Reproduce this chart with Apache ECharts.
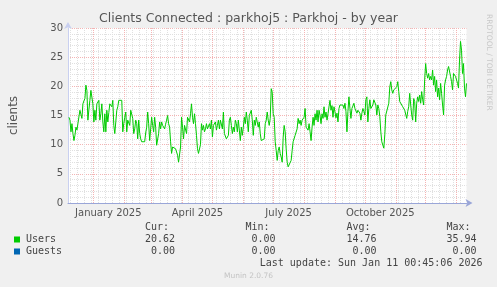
<!DOCTYPE html>
<html><head><meta charset="utf-8">
<script src="https://cdn.jsdelivr.net/npm/echarts@6/dist/echarts.min.js"></script>
<style>html,body{margin:0;padding:0;background:#f0f0f0}#c{width:497px;height:287px}</style>
</head><body><div id="c"></div>
<script>
// ---- data ----
const chartTitle = 'Clients Connected : parkhoj5 : Parkhoj - by year';
const yAxisName = 'clients';
const yMin = 0, yMax = 30, yStep = 5;
const rangeStart = Date.UTC(2024, 11, 7, 0, 45);   // 400 days shown
const rangeEnd = Date.UTC(2026, 0, 11, 0, 45);
const firstSampleDay = Date.UTC(2024, 11, 8, 0, 0); // one value per day
const monthLabels = [
  { year: 2025, month: 0, text: 'January 2025' },
  { year: 2025, month: 3, text: 'April 2025' },
  { year: 2025, month: 6, text: 'July 2025' },
  { year: 2025, month: 9, text: 'October 2025' }
];
const usersDaily = [
  14.7,14.2,12.2,13.6,11.9,10.7,11.6,13.0,12.5,12.6,12.7,15.9,15.6,14.5,17.0,17.5,17.9,20.2,19.3,14.2,
  16.0,17.6,19.3,19.6,17.0,13.9,15.9,14.2,17.0,16.7,17.6,14.2,15.3,17.0,13.9,12.2,15.3,12.2,15.9,13.9,
  15.5,17.0,17.3,16.5,17.6,13.3,11.9,13.9,15.9,16.5,17.6,17.7,17.7,17.6,12.2,13.6,14.7,15.6,12.2,14.2,
  14.5,13.3,15.9,16.0,14.5,11.9,12.7,14.2,13.6,11.0,14.2,11.9,11.0,10.5,10.3,10.2,10.5,12.0,13.0,15.6,
  13.6,10.7,12.7,14.7,13.3,12.2,14.7,13.0,9.9,9.9,11.9,13.9,12.7,13.9,13.3,13.6,12.7,13.5,14.2,15.0,
  13.6,13.0,10.5,8.5,9.6,9.3,9.6,9.3,9.0,8.2,7.0,7.3,9.6,14.7,13.0,11.0,13.3,13.6,11.9,14.7,
  14.5,13.9,15.3,17.0,14.7,13.6,15.3,13.6,11.6,9.3,8.5,8.8,10.0,13.6,12.5,13.3,12.2,12.7,13.6,12.7,
  13.0,13.6,12.7,14.2,11.3,13.3,13.0,13.9,12.5,13.3,14.2,12.7,14.2,14.5,12.7,15.6,11.9,12.2,11.0,10.7,
  11.6,14.2,14.7,13.3,11.9,13.0,12.2,14.2,13.6,12.2,14.2,12.5,10.7,13.0,11.6,13.0,14.7,13.6,15.6,14.2,
  12.2,15.0,14.7,15.9,14.2,11.6,14.2,13.3,14.7,14.7,13.0,13.9,11.9,10.7,11.0,10.7,11.0,13.6,14.2,15.6,
  14.2,13.3,14.5,19.6,19.0,15.3,14.7,10.5,9.0,7.3,9.0,9.6,8.5,7.9,7.0,11.3,13.3,12.2,9.3,7.0,
  6.2,6.0,6.2,7.3,9.0,10.5,10.7,11.6,11.3,12.7,14.5,13.6,14.2,13.3,14.2,13.9,14.7,16.2,13.0,12.7,
  12.5,13.6,12.2,10.7,13.0,14.7,13.3,15.3,14.2,15.9,13.9,15.9,15.0,13.6,15.3,14.5,16.5,14.7,15.6,14.2,
  15.3,16.5,17.6,15.9,16.7,14.7,16.5,15.6,14.6,15.4,13.9,16.2,16.8,16.5,17.1,16.8,16.2,17.1,15.7,12.2,
  15.7,18.2,16.2,14.5,16.2,15.9,17.1,16.2,16.2,15.4,15.9,16.2,15.4,14.2,15.4,16.2,15.7,15.1,17.7,18.2,
  13.9,16.2,17.7,16.2,15.9,16.8,17.7,17.9,16.8,15.1,16.8,16.2,14.8,12.2,10.5,10.8,9.4,11.7,15.1,14.8,
  15.1,17.1,19.9,20.8,19.4,18.8,19.4,19.1,19.7,19.9,20.8,19.1,17.4,17.7,17.4,16.5,16.8,15.9,16.2,14.5,
  15.7,16.5,18.8,16.8,15.1,14.2,17.9,17.4,13.9,17.1,18.2,17.4,18.5,17.1,19.1,17.7,16.8,21.1,23.9,22.2,
  21.4,22.2,21.1,21.7,21.1,22.8,20.2,21.7,19.1,21.1,18.2,19.7,17.7,20.5,18.8,16.8,15.1,20.2,21.1,21.7,
  22.8,23.4,23.1,21.7,20.8,19.4,22.2,22.5,21.7,21.4,20.5,19.7,24.5,27.7,26.2,22.2,23.9,19.7,18.2,20.5
];
const legendNames = ['Users', 'Guests'];
const legendColors = ['#00cc00', '#0066b3'];
const statHeaders = ['Cur:', 'Min:', 'Avg:', 'Max:'];
const usersStats = [20.62, 0.00, 14.76, 35.94];
const guestsStats = [0.00, 0.00, 0.00, 0.00];
const lastUpdate = 'Last update: Sun Jan 11 00:45:06 2026';
const versionText = 'Munin 2.0.76';
const watermark = 'RRDTOOL / TOBI OETIKER';

// ---- build ----
const DAY = 86400000;
const userPoints = usersDaily.map((v, i) => [firstSampleDay + i * DAY, v]);

const monthStarts = [];
for (let y = 2024, m = 11; ; m++) {
  if (m > 11) { m = 0; y++; }
  const t = Date.UTC(y, m, 1);
  if (t > rangeEnd) break;
  if (t >= rangeStart) monthStarts.push(t);
}
const weekStarts = [];
for (let t = Date.UTC(2024, 11, 9); t <= rangeEnd; t += 7 * DAY) weekStarts.push(t);

const labelValues = monthLabels.map(l => (Date.UTC(l.year, l.month, 1) + Date.UTC(l.year, l.month + 1, 1)) / 2);
const labelMap = {};
labelValues.forEach((v, i) => { labelMap[v] = monthLabels[i].text; });

const gridColor = '#e0e0e0';
const majorColor = '#f4b4b4';
const mono = '10px "DejaVu Sans Mono"';
const txt = '#444';

function T(text, x, y, opts) {
  return Object.assign({ type: 'text', x: x, y: y, silent: true,
    style: Object.assign({ text: text, x: 0, y: 0, font: mono, fill: txt,
      align: 'left', textAlign: 'left', verticalAlign: 'middle', textVerticalAlign: 'middle' }, opts || {}) });
}

const colLeft = [145, 245.5, 346.5, 446.5];
const colRight = [175, 275.5, 376.5, 476.5];
const rowsY = [239.5, 251.5];
const statsRows = [usersStats, guestsStats];

const graphics = [
  T(chartTitle, 248.5, 18.5, { font: '12.5px "DejaVu Sans"', fill: '#555', align: 'center', textAlign: 'center' }),
  Object.assign(T(watermark, 489, 14, { font: '7.5px "DejaVu Sans"', fill: '#c8c8c8' }), { rotation: -Math.PI / 2 }),
  T(versionText, 248.5, 276, { font: '7.5px "DejaVu Sans"', fill: '#c4c4c4', align: 'center', textAlign: 'center' }),
  T(lastUpdate, 482.5, 263.5, { align: 'right', textAlign: 'right' })
];
statHeaders.forEach((h, i) => graphics.push(T(h, colLeft[i], 227)));
legendNames.forEach((n, r) => {
  graphics.push({ type: 'rect', silent: true, shape: { x: 14, y: rowsY[r] - 3, width: 6, height: 6 }, style: { fill: legendColors[r] } });
  graphics.push(T(n, 26, rowsY[r]));
  statsRows[r].forEach((v, i) => graphics.push(T(v.toFixed(2), colRight[i], rowsY[r], { align: 'right', textAlign: 'right' })));
});

const chart = echarts.init(document.getElementById('c'), null, { renderer: 'canvas' });
chart.setOption({
  animation: false,
  backgroundColor: '#f0f0f0',
  grid: { left: 66.53, top: 28, width: 400, height: 175, show: true, backgroundColor: '#ffffff', borderWidth: 0 },
  xAxis: {
    type: 'value', min: rangeStart, max: rangeEnd,
    axisLine: { show: true, onZero: false, lineStyle: { color: '#9aa6d8', width: 1 }, symbol: ['none', 'arrow'], symbolSize: [6, 7], symbolOffset: [0, 6] },
    axisTick: { show: false },
    splitLine: { show: false },
    axisLabel: { customValues: labelValues, formatter: v => labelMap[v] || '', color: '#555', fontSize: 10, fontFamily: 'DejaVu Sans', margin: 5, hideOverlap: false }
  },
  yAxis: {
    type: 'value', min: yMin, max: yMax, interval: yStep,
    name: yAxisName, nameLocation: 'middle', nameGap: 48, nameRotate: 90,
    nameTextStyle: { color: '#555', fontSize: 12, fontFamily: 'DejaVu Sans' },
    axisLine: { show: true, lineStyle: { color: '#c9d0f0', width: 1 }, symbol: ['none', 'arrow'], symbolSize: [6, 7], symbolOffset: [0, 6] },
    axisTick: { show: false },
    axisLabel: { color: '#555', fontSize: 10, fontFamily: 'DejaVu Sans', margin: 5 },
    splitLine: { show: true, lineStyle: { color: majorColor, type: 'dotted', width: 1 } },
    minorTick: { show: false, splitNumber: 5 },
    minorSplitLine: { show: true, lineStyle: { color: gridColor, type: 'dotted', width: 1 } }
  },
  series: [
    {
      type: 'line', data: [], z: 1, silent: true,
      markLine: {
        silent: true, symbol: ['none', 'none'], label: { show: false }, animation: false,
        data: weekStarts.map(t => ({ xAxis: t, lineStyle: { color: gridColor, type: 'dotted', width: 1 } }))
          .concat(monthStarts.map(t => ({ xAxis: t, lineStyle: { color: majorColor, type: 'dotted', width: 1 } })))
      }
    },
    {
      name: legendNames[0], type: 'line', data: userPoints, z: 5,
      showSymbol: false, symbol: 'none', sampling: null,
      lineStyle: { color: legendColors[0], width: 1 }
    }
  ],
  graphic: { elements: graphics }
});
</script></body></html>
